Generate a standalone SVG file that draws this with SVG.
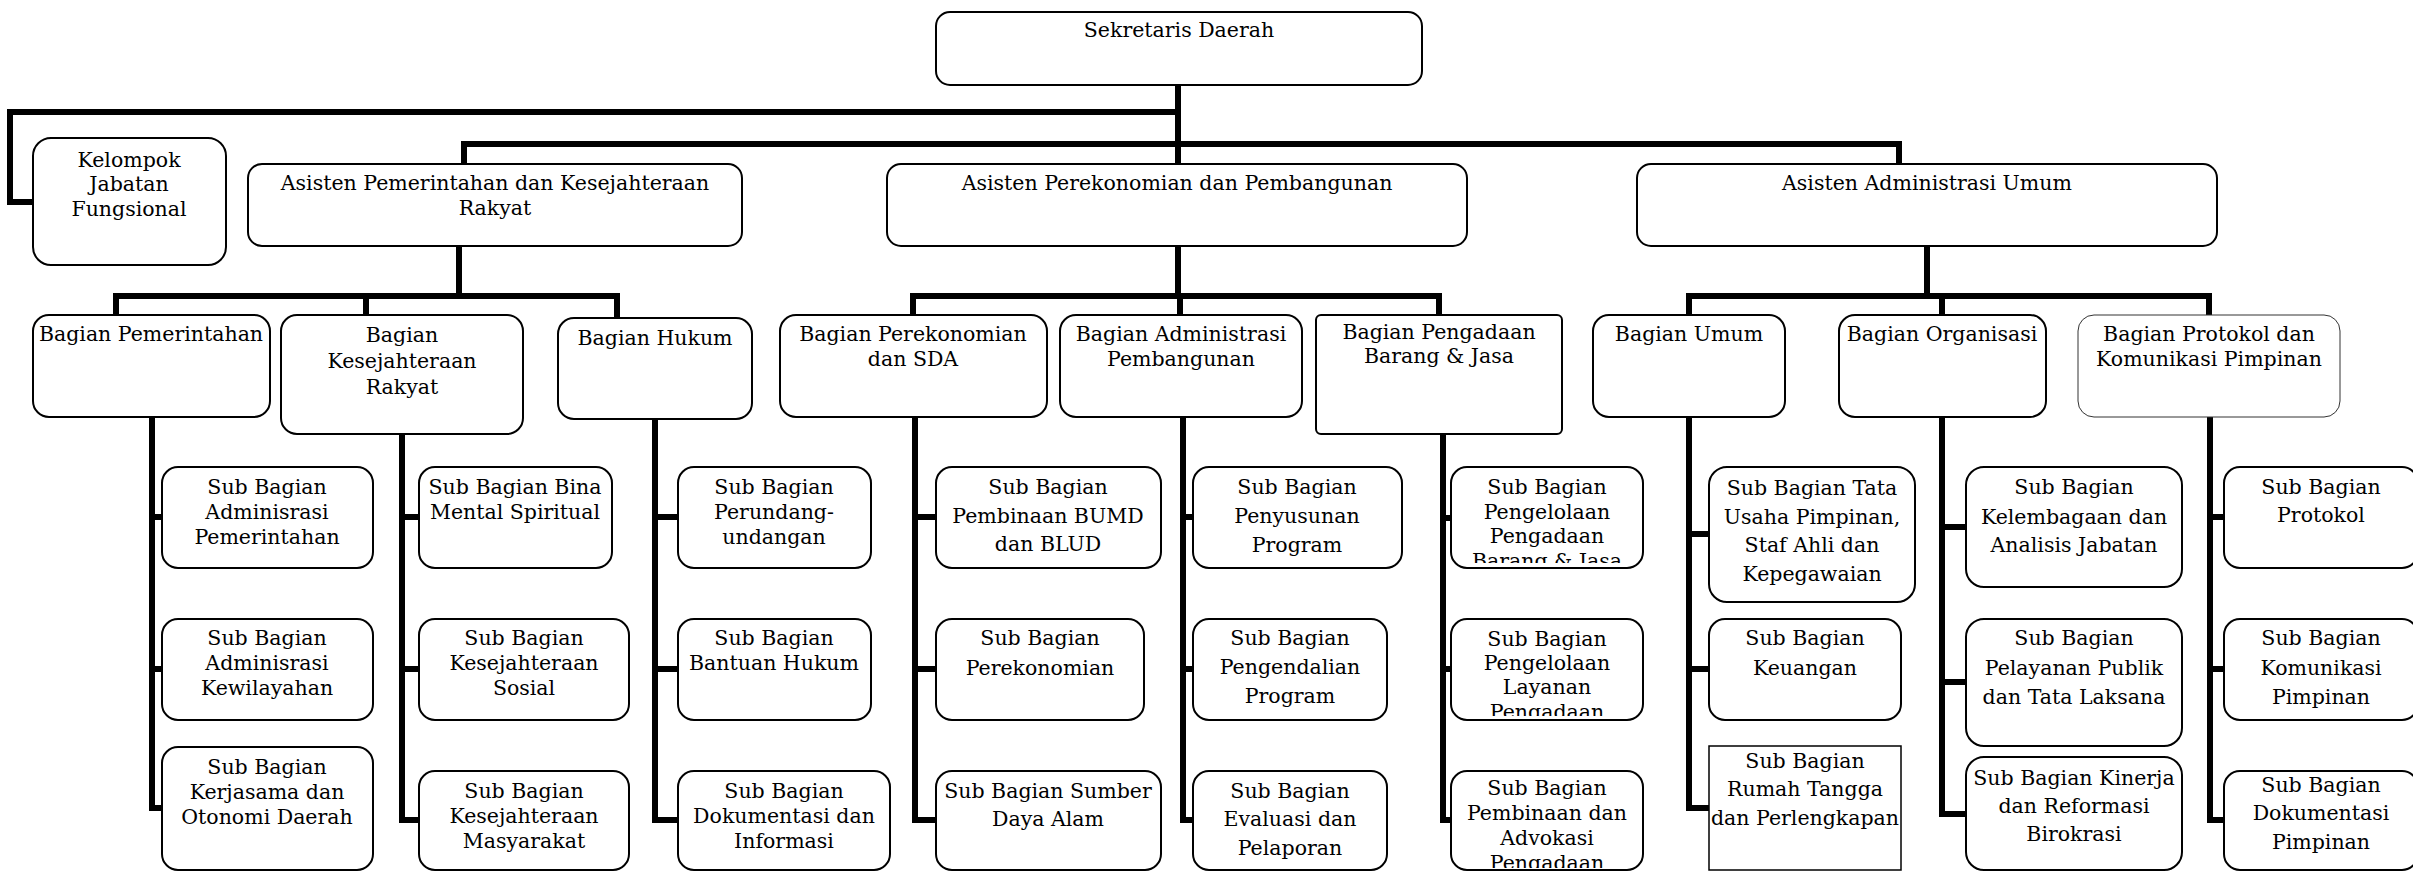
<svg xmlns="http://www.w3.org/2000/svg" width="2413" height="872" viewBox="0 0 2413 872">
<style>
.box{fill:#fff;stroke:#000;stroke-width:2}
.thin{fill:#fff;stroke:#333;stroke-width:1}
.t{font-family:"DejaVu Serif","Liberation Serif",serif;font-size:20.5px;text-anchor:middle;fill:#000}
.c{stroke:#000;stroke-width:6;fill:none;stroke-linecap:butt;stroke-linejoin:miter}
</style>
<defs>
<clipPath id="cp61"><rect x="1451" y="467" width="192" height="96"/></clipPath>
<clipPath id="cp62"><rect x="1451" y="619" width="192" height="97"/></clipPath>
<clipPath id="cp63"><rect x="1451" y="771" width="192" height="97"/></clipPath>
</defs>
<rect width="2413" height="872" fill="#fff"/>
<g id="connectors">
<path class="c" d="M1178,85 V164"/>
<path class="c" d="M1178,112 H10 V202 H33"/>
<path class="c" d="M464,164 V144 H1899 V164"/>
<path class="c" d="M459,246 V296"/>
<path class="c" d="M116,315 V296 H617 V318 M366,296 V315"/>
<path class="c" d="M1178,246 V296"/>
<path class="c" d="M913,315 V296 H1439 V315 M1180,296 V315"/>
<path class="c" d="M1927,246 V296"/>
<path class="c" d="M1689,315 V296 H2209 V315 M1942,296 V315"/>
<path class="c" d="M152,417 V811 M152,517 H162 M152,669 H162 M152,808 H162"/>
<path class="c" d="M402,434 V823 M402,517 H419 M402,669 H419 M402,820 H419"/>
<path class="c" d="M655,419 V823 M655,517 H678 M655,669 H678 M655,820 H678"/>
<path class="c" d="M915,417 V823 M915,517 H936 M915,669 H936 M915,820 H936"/>
<path class="c" d="M1183,417 V823 M1183,517 H1193 M1183,669 H1193 M1183,820 H1193"/>
<path class="c" d="M1443,434 V823 M1443,518 H1451 M1443,669 H1451 M1443,820 H1451"/>
<path class="c" d="M1689,417 V811 M1689,534 H1709 M1689,669 H1709 M1689,808 H1709"/>
<path class="c" d="M1942,417 V817 M1942,527 H1966 M1942,682 H1966 M1942,814 H1966"/>
<path class="c" d="M2210,417 V823 M2210,517 H2224 M2210,669 H2224 M2210,820 H2224"/>
</g>
<g id="sekda"><rect class="box" x="936" y="12" width="486" height="73" rx="14"/><text class="t" x="1179" y="37">Sekretaris Daerah</text></g>
<g id="kjf"><rect class="box" x="33" y="138" width="193" height="127" rx="18"/><text class="t"><tspan x="129" y="167">Kelompok</tspan><tspan x="129" y="191">Jabatan</tspan><tspan x="129" y="216">Fungsional</tspan></text></g>
<g id="as1"><rect class="box" x="248" y="164" width="494" height="82" rx="14"/><text class="t"><tspan x="495" y="190">Asisten Pemerintahan dan Kesejahteraan</tspan><tspan x="495" y="215">Rakyat</tspan></text></g>
<g id="as2"><rect class="box" x="887" y="164" width="580" height="82" rx="14"/><text class="t" x="1177" y="190">Asisten Perekonomian dan Pembangunan</text></g>
<g id="as3"><rect class="box" x="1637" y="164" width="580" height="82" rx="14"/><text class="t" x="1927" y="190">Asisten Administrasi Umum</text></g>

<g id="bpem"><rect class="box" x="33" y="315" width="237" height="102" rx="16"/><text class="t" x="151" y="341">Bagian Pemerintahan</text></g>
<g id="bkesra"><rect class="box" x="281" y="315" width="242" height="119" rx="16"/><text class="t"><tspan x="402" y="342">Bagian</tspan><tspan x="402" y="368">Kesejahteraan</tspan><tspan x="402" y="394">Rakyat</tspan></text></g>
<g id="bhukum"><rect class="box" x="558" y="318" width="194" height="101" rx="16"/><text class="t" x="655" y="345">Bagian Hukum</text></g>
<g id="bperek"><rect class="box" x="780" y="315" width="267" height="102" rx="16"/><text class="t"><tspan x="913" y="341">Bagian Perekonomian</tspan><tspan x="913" y="366">dan SDA</tspan></text></g>
<g id="bapem"><rect class="box" x="1060" y="315" width="242" height="102" rx="16"/><text class="t"><tspan x="1181" y="341">Bagian Administrasi</tspan><tspan x="1181" y="366">Pembangunan</tspan></text></g>
<g id="bpbj"><rect class="box" x="1316" y="315" width="246" height="119" rx="5"/><text class="t"><tspan x="1439" y="339">Bagian Pengadaan</tspan><tspan x="1439" y="363">Barang &amp; Jasa</tspan></text></g>
<g id="bumum"><rect class="box" x="1593" y="315" width="192" height="102" rx="16"/><text class="t" x="1689" y="341">Bagian Umum</text></g>
<g id="borg"><rect class="box" x="1839" y="315" width="207" height="102" rx="16"/><text class="t" x="1942" y="341">Bagian Organisasi</text></g>
<g id="bprokom"><rect class="thin" x="2078" y="315" width="262" height="102" rx="16"/><text class="t"><tspan x="2209" y="341">Bagian Protokol dan</tspan><tspan x="2209" y="366">Komunikasi Pimpinan</tspan></text></g>

<g id="s11"><rect class="box" x="162" y="467" width="211" height="101" rx="16"/><text class="t"><tspan x="267" y="494">Sub Bagian</tspan><tspan x="267" y="519">Adminisrasi</tspan><tspan x="267" y="544">Pemerintahan</tspan></text></g>
<g id="s12"><rect class="box" x="162" y="619" width="211" height="101" rx="16"/><text class="t"><tspan x="267" y="645">Sub Bagian</tspan><tspan x="267" y="670">Adminisrasi</tspan><tspan x="267" y="695">Kewilayahan</tspan></text></g>
<g id="s13"><rect class="box" x="162" y="747" width="211" height="123" rx="16"/><text class="t"><tspan x="267" y="774">Sub Bagian</tspan><tspan x="267" y="799">Kerjasama dan</tspan><tspan x="267" y="824">Otonomi Daerah</tspan></text></g>

<g id="s21"><rect class="box" x="419" y="467" width="193" height="101" rx="16"/><text class="t"><tspan x="515" y="494">Sub Bagian Bina</tspan><tspan x="515" y="519">Mental Spiritual</tspan></text></g>
<g id="s22"><rect class="box" x="419" y="619" width="210" height="101" rx="16"/><text class="t"><tspan x="524" y="645">Sub Bagian</tspan><tspan x="524" y="670">Kesejahteraan</tspan><tspan x="524" y="695">Sosial</tspan></text></g>
<g id="s23"><rect class="box" x="419" y="771" width="210" height="99" rx="16"/><text class="t"><tspan x="524" y="798">Sub Bagian</tspan><tspan x="524" y="823">Kesejahteraan</tspan><tspan x="524" y="848">Masyarakat</tspan></text></g>

<g id="s31"><rect class="box" x="678" y="467" width="193" height="101" rx="16"/><text class="t"><tspan x="774" y="494">Sub Bagian</tspan><tspan x="774" y="519">Perundang-</tspan><tspan x="774" y="544">undangan</tspan></text></g>
<g id="s32"><rect class="box" x="678" y="619" width="193" height="101" rx="16"/><text class="t"><tspan x="774" y="645">Sub Bagian</tspan><tspan x="774" y="670">Bantuan Hukum</tspan></text></g>
<g id="s33"><rect class="box" x="678" y="771" width="212" height="99" rx="16"/><text class="t"><tspan x="784" y="798">Sub Bagian</tspan><tspan x="784" y="823">Dokumentasi dan</tspan><tspan x="784" y="848">Informasi</tspan></text></g>

<g id="s41"><rect class="box" x="936" y="467" width="225" height="101" rx="16"/><text class="t"><tspan x="1048" y="494">Sub Bagian</tspan><tspan x="1048" y="523">Pembinaan BUMD</tspan><tspan x="1048" y="551">dan BLUD</tspan></text></g>
<g id="s42"><rect class="box" x="936" y="619" width="208" height="101" rx="16"/><text class="t"><tspan x="1040" y="645">Sub Bagian</tspan><tspan x="1040" y="675">Perekonomian</tspan></text></g>
<g id="s43"><rect class="box" x="936" y="771" width="225" height="99" rx="16"/><text class="t"><tspan x="1048" y="798">Sub Bagian Sumber</tspan><tspan x="1048" y="826">Daya Alam</tspan></text></g>

<g id="s51"><rect class="box" x="1193" y="467" width="209" height="101" rx="16"/><text class="t"><tspan x="1297" y="494">Sub Bagian</tspan><tspan x="1297" y="523">Penyusunan</tspan><tspan x="1297" y="552">Program</tspan></text></g>
<g id="s52"><rect class="box" x="1193" y="619" width="194" height="101" rx="16"/><text class="t"><tspan x="1290" y="645">Sub Bagian</tspan><tspan x="1290" y="674">Pengendalian</tspan><tspan x="1290" y="703">Program</tspan></text></g>
<g id="s53"><rect class="box" x="1193" y="771" width="194" height="99" rx="16"/><text class="t"><tspan x="1290" y="798">Sub Bagian</tspan><tspan x="1290" y="826">Evaluasi dan</tspan><tspan x="1290" y="855">Pelaporan</tspan></text></g>

<g id="s61"><rect class="box" x="1451" y="467" width="192" height="101" rx="16"/><text class="t" clip-path="url(#cp61)"><tspan x="1547" y="494">Sub Bagian</tspan><tspan x="1547" y="519">Pengelolaan</tspan><tspan x="1547" y="543">Pengadaan</tspan><tspan x="1547" y="568">Barang &amp; Jasa</tspan></text></g>
<g id="s62"><rect class="box" x="1451" y="619" width="192" height="101" rx="16"/><text class="t" clip-path="url(#cp62)"><tspan x="1547" y="646">Sub Bagian</tspan><tspan x="1547" y="670">Pengelolaan</tspan><tspan x="1547" y="694">Layanan</tspan><tspan x="1547" y="719">Pengadaan</tspan></text></g>
<g id="s63"><rect class="box" x="1451" y="771" width="192" height="99" rx="16"/><text class="t" clip-path="url(#cp63)"><tspan x="1547" y="795">Sub Bagian</tspan><tspan x="1547" y="820">Pembinaan dan</tspan><tspan x="1547" y="845">Advokasi</tspan><tspan x="1547" y="870">Pengadaan</tspan></text></g>

<g id="s71"><rect class="box" x="1709" y="467" width="206" height="135" rx="18"/><text class="t"><tspan x="1812" y="495">Sub Bagian Tata</tspan><tspan x="1812" y="524">Usaha Pimpinan,</tspan><tspan x="1812" y="552">Staf Ahli dan</tspan><tspan x="1812" y="581">Kepegawaian</tspan></text></g>
<g id="s72"><rect class="box" x="1709" y="619" width="192" height="101" rx="16"/><text class="t"><tspan x="1805" y="645">Sub Bagian</tspan><tspan x="1805" y="675">Keuangan</tspan></text></g>
<g id="s73"><rect x="1709" y="746" width="192" height="124" fill="#fff" stroke="#000" stroke-width="1.5"/><text class="t"><tspan x="1805" y="768">Sub Bagian</tspan><tspan x="1805" y="796">Rumah Tangga</tspan><tspan x="1805" y="825">dan Perlengkapan</tspan></text></g>

<g id="s81"><rect class="box" x="1966" y="467" width="216" height="120" rx="18"/><text class="t"><tspan x="2074" y="494">Sub Bagian</tspan><tspan x="2074" y="524">Kelembagaan dan</tspan><tspan x="2074" y="552">Analisis Jabatan</tspan></text></g>
<g id="s82"><rect class="box" x="1966" y="619" width="216" height="127" rx="18"/><text class="t"><tspan x="2074" y="645">Sub Bagian</tspan><tspan x="2074" y="675">Pelayanan Publik</tspan><tspan x="2074" y="704">dan Tata Laksana</tspan></text></g>
<g id="s83"><rect class="box" x="1966" y="757" width="216" height="113" rx="18"/><text class="t"><tspan x="2074" y="785">Sub Bagian Kinerja</tspan><tspan x="2074" y="813">dan Reformasi</tspan><tspan x="2074" y="841">Birokrasi</tspan></text></g>

<g id="s91"><rect class="box" x="2224" y="467" width="194" height="101" rx="16"/><text class="t"><tspan x="2321" y="494">Sub Bagian</tspan><tspan x="2321" y="522">Protokol</tspan></text></g>
<g id="s92"><rect class="box" x="2224" y="619" width="194" height="101" rx="16"/><text class="t"><tspan x="2321" y="645">Sub Bagian</tspan><tspan x="2321" y="675">Komunikasi</tspan><tspan x="2321" y="704">Pimpinan</tspan></text></g>
<g id="s93"><rect class="box" x="2224" y="771" width="194" height="99" rx="16"/><text class="t"><tspan x="2321" y="792">Sub Bagian</tspan><tspan x="2321" y="820">Dokumentasi</tspan><tspan x="2321" y="849">Pimpinan</tspan></text></g>
</svg>
